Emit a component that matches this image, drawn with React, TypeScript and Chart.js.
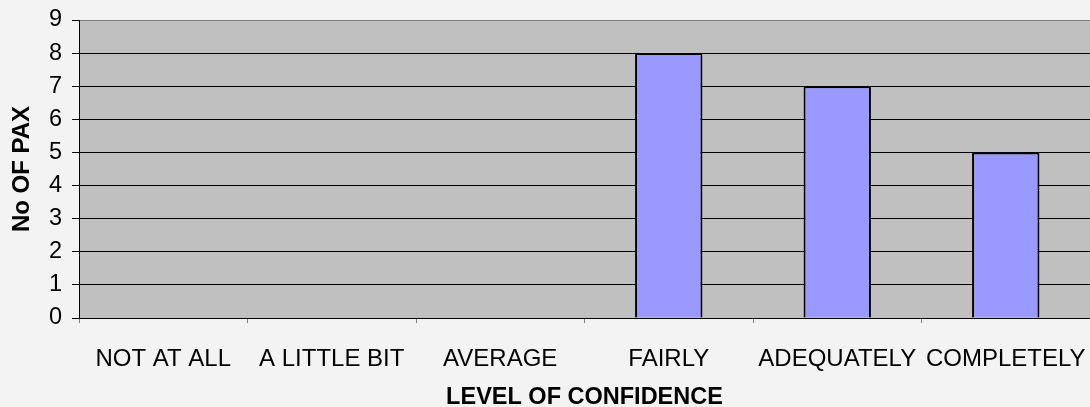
import React, { useEffect, useRef } from "react";
import { Chart, registerables } from "chart.js";

Chart.register(...registerables);

const categories = ["NOT AT ALL", "A LITTLE BIT", "AVERAGE", "FAIRLY", "ADEQUATELY", "COMPLETELY"];
const paxValues = [0, 0, 0, 8, 7, 5];
const yTickValues = [0, 1, 2, 3, 4, 5, 6, 7, 8, 9];
const xTitle = "LEVEL OF CONFIDENCE";
const yTitle = "No OF PAX";

const FONT = "'Liberation Sans', Arial, sans-serif";
const PAGE_BG = "#f3f3f3";
const PLOT_BG = "#c0c0c0";

const bgPlugin = {
  id: "bgPlugin",
  beforeDraw(chart: any) {
    const { ctx, chartArea } = chart;
    ctx.save();
    ctx.fillStyle = PAGE_BG;
    ctx.fillRect(0, 0, chart.width, chart.height);
    ctx.fillStyle = PLOT_BG;
    ctx.fillRect(chartArea.left, chartArea.top, chartArea.right - chartArea.left, chartArea.bottom - chartArea.top);
    ctx.restore();
  },
};

export default function App() {
  const ref = useRef<HTMLCanvasElement | null>(null);

  useEffect(() => {
    document.body.style.margin = "0";
    document.body.style.background = PAGE_BG;
    const canvas = ref.current;
    if (!canvas) return;
    const chart = new Chart(canvas, {
      type: "bar",
      data: {
        labels: categories,
        datasets: [
          {
            label: yTitle,
            data: paxValues,
            backgroundColor: "#9999ff",
            borderColor: "#000000",
            borderWidth: 2,
            categoryPercentage: 1,
            barPercentage: 0.4,
          },
        ],
      },
      options: {
        responsive: false,
        animation: false,
        devicePixelRatio: 1,
        layout: { padding: { top: 20, right: 0, left: 0, bottom: 0 } },
        plugins: {
          legend: { display: false },
          tooltip: { enabled: false },
        },
        scales: {
          x: {
            grid: {
              display: true,
              drawOnChartArea: false,
              offset: true,
              tickLength: 5,
              color: "#808080",
            },
            border: { display: true, color: "#000000", width: 1 },
            ticks: {
              autoSkip: false,
              maxRotation: 0,
              minRotation: 0,
              padding: 22,
              color: "#000000",
              font: { family: FONT, size: 24 },
            },
            title: {
              display: true,
              text: xTitle,
              color: "#000000",
              font: { family: FONT, size: 23.5, weight: "bold", lineHeight: 1 },
              padding: { top: 0, bottom: -2 },
            },
            afterFit: (s: any) => {
              s.height = 89;
              s.paddingLeft = 0;
              s.paddingRight = 0;
            },
          },
          y: {
            min: 0,
            max: 9,
            afterBuildTicks: (s: any) => {
              s.ticks = yTickValues.map((v) => ({ value: v }));
            },
            grid: {
              display: true,
              drawOnChartArea: true,
              drawTicks: true,
              tickLength: 7,
              color: (c: any) => (c.tick && c.tick.value === 9 ? "#808080" : "#000000"),
              tickColor: "#000000",
              lineWidth: 1,
            },
            border: { display: true, color: "#000000", width: 1 },
            ticks: {
              padding: 10,
              color: "#000000",
              font: { family: FONT, size: 23.5 },
            },
            title: {
              display: true,
              text: yTitle,
              color: "#000000",
              font: { family: FONT, size: 24, weight: "bold", lineHeight: 1 },
              padding: { top: 10, bottom: 0 },
            },
            afterFit: (s: any) => {
              s.width = 79;
              s.paddingTop = 0;
              s.paddingBottom = 0;
            },
          },
        },
      },
      plugins: [bgPlugin],
    });
    return () => chart.destroy();
  }, []);

  return (
    <div style={{ width: 1090, height: 407, background: PAGE_BG }}>
      <canvas ref={ref} width={1090} height={407} style={{ display: "block" }} />
    </div>
  );
}
